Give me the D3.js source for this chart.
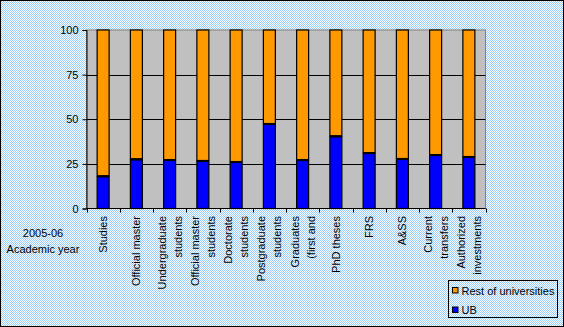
<!DOCTYPE html>
<html>
<head>
<meta charset="utf-8">
<script src="https://cdn.jsdelivr.net/npm/d3@7"></script>
<style>
  html, body { margin: 0; padding: 0; background: #fff; }
  svg { display: block; }
  text { font-family: "Liberation Sans", Arial, sans-serif; font-size: 11px; fill: #000; }
</style>
</head>
<body>
<svg id="chart" width="564" height="327"></svg>
<script>
// ---- data ----
const categories = [
  ["Studies"],
  ["Official master"],
  ["Undergraduate", "students"],
  ["Official master", "students"],
  ["Doctorate", "students"],
  ["Postgraduate", "students"],
  ["Graduates", "(first and"],
  ["PhD theses"],
  ["FRS"],
  ["A&SS"],
  ["Current", "transfers"],
  ["Authorized", "investments"]
];
const ubValues   = [18.3, 27.8, 27.4, 26.9, 26.3, 47.6, 27.4, 40.7, 31.3, 28.0, 30.2, 29.1];
const restValues = [81.7, 72.2, 72.6, 73.1, 73.7, 52.4, 72.6, 59.3, 68.7, 72.0, 69.8, 70.9];
const yTicks = [0, 25, 50, 75, 100];
const seriesNames = ["Rest of universities", "UB"];
const seriesColors = ["#FF9900", "#0000FF"];
const axisTitle = ["2005-06", "Academic year"];

// ---- layout ----
const W = 564, H = 327;
const plot = { left: 86.5, right: 485.5, top: 30, bottom: 208.5 };
const svg = d3.select("#chart");

// background checker pattern
const defs = svg.append("defs");
const pat = defs.append("pattern").attr("id", "chk")
  .attr("width", 2).attr("height", 2).attr("patternUnits", "userSpaceOnUse");
pat.append("rect").attr("width", 2).attr("height", 2).attr("fill", "#ffffff");
pat.append("rect").attr("x", 0).attr("y", 0).attr("width", 1).attr("height", 1).attr("fill", "#99CCFF");
pat.append("rect").attr("x", 1).attr("y", 1).attr("width", 1).attr("height", 1).attr("fill", "#99CCFF");

svg.append("rect").attr("x", 0.5).attr("y", 0.5).attr("width", W - 1).attr("height", H - 1)
  .attr("fill", "url(#chk)").attr("stroke", "#000").attr("stroke-width", 1);

const idx = categories.map((d, i) => i);
const x = d3.scaleBand().domain(idx).range([plot.left, plot.right]).padding(0);
const y = d3.scaleLinear().domain([0, 100]).range([plot.bottom, plot.top]);

// plot area
svg.append("rect")
  .attr("x", plot.left).attr("y", plot.top)
  .attr("width", plot.right - plot.left).attr("height", plot.bottom - plot.top)
  .attr("fill", "#C0C0C0").attr("stroke", "#808080").attr("stroke-width", 1);

// gridlines
svg.append("g").selectAll("line").data(yTicks.filter(t => t > 0 && t < 100)).join("line")
  .attr("x1", plot.left).attr("x2", plot.right)
  .attr("y1", d => Math.round(y(d)) + 0.5).attr("y2", d => Math.round(y(d)) + 0.5)
  .attr("stroke", "#000").attr("stroke-width", 1);

// bars
const barW = 12;
const stacked = idx.map(i => ({ i, ub: ubValues[i], rest: restValues[i] }));
const bars = svg.append("g");
bars.selectAll("rect.rest").data(stacked).join("rect").attr("class", "rest")
  .attr("x", d => x(d.i) + x.bandwidth() / 2 - barW / 2)
  .attr("width", barW)
  .attr("y", d => y(d.ub + d.rest))
  .attr("height", d => y(d.ub) - y(d.ub + d.rest))
  .attr("fill", seriesColors[0]).attr("stroke", "#000").attr("stroke-width", 1.2);
bars.selectAll("rect.ub").data(stacked).join("rect").attr("class", "ub")
  .attr("x", d => x(d.i) + x.bandwidth() / 2 - barW / 2)
  .attr("width", barW)
  .attr("y", d => y(d.ub) + 0.8)
  .attr("height", d => y(0) - y(d.ub) - 0.8)
  .attr("fill", seriesColors[1]).attr("stroke", "#000").attr("stroke-width", 1.2);
bars.selectAll("line.sep").data(stacked).join("line").attr("class", "sep")
  .attr("x1", d => x(d.i) + x.bandwidth() / 2 - barW / 2)
  .attr("x2", d => x(d.i) + x.bandwidth() / 2 + barW / 2)
  .attr("y1", d => y(d.ub) + 0.5).attr("y2", d => y(d.ub) + 0.5)
  .attr("stroke", "#000").attr("stroke-width", 2);

// y axis
const yAxis = svg.append("g").attr("transform", `translate(${plot.left},0)`)
  .call(d3.axisLeft(y).tickValues(yTicks).tickSize(4).tickPadding(4).tickFormat(d3.format("d")));
yAxis.select(".domain").attr("stroke", "#000");
yAxis.selectAll(".tick line").attr("stroke", "#000");
yAxis.selectAll("text").style("font-family", "'Liberation Sans', Arial, sans-serif").style("font-size", "11px").attr("fill", "#000");

// x axis line and ticks at category boundaries
const bounds = idx.map(i => x(i)).concat([plot.right]);
svg.append("line").attr("x1", plot.left).attr("x2", plot.right)
  .attr("y1", plot.bottom).attr("y2", plot.bottom).attr("stroke", "#000");
svg.append("g").selectAll("line").data(bounds).join("line")
  .attr("x1", d => Math.round(d) + 0.5).attr("x2", d => Math.round(d) + 0.5)
  .attr("y1", plot.bottom).attr("y2", plot.bottom + 4)
  .attr("stroke", "#000");

// x labels (rotated)
const lab = svg.append("g").selectAll("g").data(idx).join("g")
  .attr("transform", i => `translate(${x(i) + x.bandwidth() / 2},216) rotate(-90)`);
lab.each(function (i) {
  const lines = categories[i];
  const n = lines.length;
  d3.select(this).selectAll("text").data(lines).join("text")
    .attr("x", 0)
    .attr("y", (d, k) => (k - (n - 1) / 2) * 16)
    .attr("dominant-baseline", "central")
    .attr("text-anchor", "end")
    .text(d => d);
});

// axis title
svg.append("g").selectAll("text").data(axisTitle).join("text")
  .attr("x", 43).attr("y", (d, k) => 233 + k * 16)
  .attr("text-anchor", "middle").attr("dominant-baseline", "central")
  .text(d => d);

// legend
const lg = svg.append("g");
lg.append("rect").attr("x", 448.5).attr("y", 280.5).attr("width", 109).attr("height", 37)
  .attr("fill", "none").attr("stroke", "#000");
const items = lg.selectAll("g").data(seriesNames).join("g")
  .attr("transform", (d, k) => `translate(452,${290 + k * 19.5})`);
items.append("rect").attr("x", 0.5).attr("y", -2.5).attr("width", 5.5).attr("height", 5.5)
  .attr("fill", (d, k) => seriesColors[k]).attr("stroke", "#000");
items.append("text").attr("x", 9.5).attr("y", 0.5).attr("dominant-baseline", "central").text(d => d);
</script>
</body>
</html>
